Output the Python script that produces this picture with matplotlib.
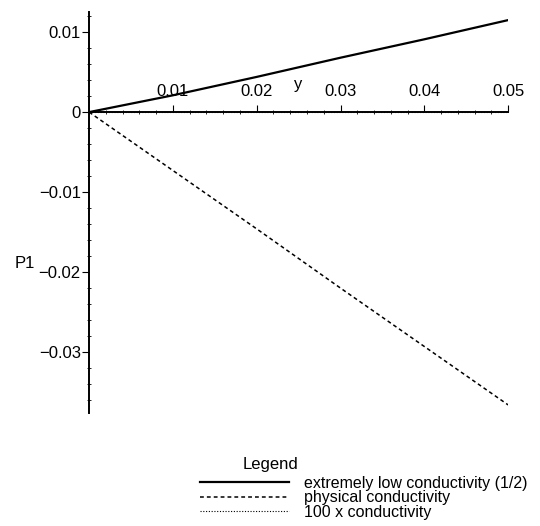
import matplotlib
matplotlib.use("Agg")
import matplotlib.pyplot as plt
from matplotlib.ticker import MultipleLocator, FixedLocator

plt.rcParams['font.family'] = ['Liberation Sans', 'DejaVu Sans']

# valores
y_vals = [0.0, 0.01, 0.02, 0.03, 0.04, 0.05]
p1_baixa = [0.0, 0.0021, 0.0044, 0.0068, 0.0091, 0.0115]
p1_fisica = [0.0, -0.0073, -0.0146, -0.0220, -0.0293, -0.0366]
p1_100x = [0.0, 0.0, 0.0, 0.0, 0.0, 0.0]

x_ticks = [0.01, 0.02, 0.03, 0.04, 0.05]
x_rotulos = ['0.01', '0.02', '0.03', '0.04', '0.05']
y_ticks = [-0.03, -0.02, -0.01, 0, 0.01]
y_rotulos = ['\u22120.03', '\u22120.02', '\u22120.01', '0', '0.01']

nomes = ["extremely low conductivity (1/2)", "physical conductivity", "100 x conductivity"]

fig = plt.figure(figsize=(5.4, 5.26), dpi=100)
ax = fig.add_axes([0.165, 0.215, 0.776, 0.762])

l1, = ax.plot(y_vals, p1_baixa, color='black', lw=1.6)
l2, = ax.plot(y_vals, p1_fisica, color='black', lw=1.1, linestyle=(0, (2.5, 2)))
l3, = ax.plot(y_vals, p1_100x, color='black', lw=0.8, linestyle=(0, (1, 1.5)))

ax.set_xlim(0, 0.05)
ax.set_ylim(-0.0376, 0.0125)

# eixos cruzando na origem (estilo Maple)
ax.spines['left'].set_position(('data', 0))
ax.spines['bottom'].set_position(('data', 0))
ax.spines['right'].set_visible(False)
ax.spines['top'].set_visible(False)
ax.spines['left'].set_linewidth(1.4)
ax.spines['bottom'].set_linewidth(1.4)

ax.xaxis.set_major_locator(FixedLocator(x_ticks))
ax.xaxis.set_minor_locator(MultipleLocator(0.002))
ax.yaxis.set_major_locator(FixedLocator(y_ticks))
ax.yaxis.set_minor_locator(MultipleLocator(0.002))
ax.set_xticklabels(x_rotulos)
ax.set_yticklabels(y_rotulos)

# rótulos do eixo x logo acima da linha y=0
ax.tick_params(axis='x', which='major', direction='in', length=5, labelsize=12, pad=-20)
ax.tick_params(axis='x', which='minor', direction='inout', length=3)
ax.tick_params(axis='y', which='major', direction='out', length=5, labelsize=12, pad=1)
ax.tick_params(axis='y', which='minor', direction='inout', length=3)

ax.text(0.025, 0.0034, 'y', fontsize=12, ha='center', va='center')
fig.text(15 / 540, 1 - 263 / 526, 'P1', fontsize=12, ha='left', va='center')

# legenda no rodapé
fig.text(270 / 540, 1 - 465 / 526, 'Legend', fontsize=12, ha='center', va='center')
fig.legend([l1, l2, l3], nomes, loc='upper left', bbox_to_anchor=(192 / 540, 1 - 468 / 526),
           frameon=False, fontsize=11.5, handlelength=5.6, handletextpad=0.9,
           labelspacing=-0.04, borderpad=0)

fig.savefig('out.png', dpi=100)
